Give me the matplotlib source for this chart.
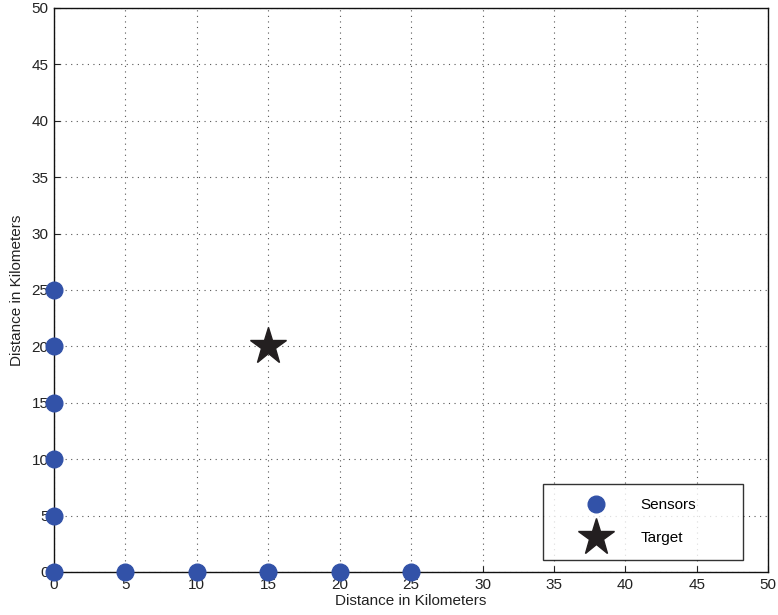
import matplotlib
matplotlib.use("Agg")
import matplotlib.pyplot as plt

plt.rcParams["font.family"] = ["Liberation Sans", "DejaVu Sans"]

# --- Data ---
sensor_x = [0, 0, 0, 0, 0, 0, 5, 10, 15, 20, 25]
sensor_y = [0, 5, 10, 15, 20, 25, 0, 0, 0, 0, 0]
target_x = [15]
target_y = [20]
ticks = [0, 5, 10, 15, 20, 25, 30, 35, 40, 45, 50]

fig = plt.figure(figsize=(7.78, 6.15), dpi=100)
ax = fig.add_axes([0.0694, 0.070, 0.918, 0.917])

ax.plot(sensor_x, sensor_y, "o", color="#3252a8", markersize=12,
        linestyle="none", label="Sensors", clip_on=False, zorder=5)
ax.plot(target_x, target_y, "*", color="#231f20", markersize=28,
        linestyle="none", label="Target", zorder=5)

ax.set_xlim(0, 50)
ax.set_ylim(0, 50)
ax.set_xticks(ticks)
ax.set_yticks(ticks)
ax.tick_params(direction="in", length=4, labelsize=11, colors="#222222", pad=4)
ax.grid(True, linestyle=(0, (1, 4)), color="#555555", linewidth=0.8)
for s in ax.spines.values():
    s.set_linewidth(1.0)
    s.set_color("#111111")

ax.set_xlabel("Distance in Kilometers", fontsize=11, labelpad=2, color="#222222")
ax.set_ylabel("Distance in Kilometers", fontsize=11, labelpad=5, color="#222222")

# MATLAB-style legend: fixed-width box, entries left aligned
leg = ax.legend(loc="lower left", bbox_to_anchor=(0.685, 0.0213, 0.28, 0.13),
                mode="expand", fancybox=False, edgecolor="black", fontsize=11,
                borderpad=0.95, labelspacing=1.25, handlelength=5.0,
                handletextpad=0.4, borderaxespad=0)
leg.get_frame().set_linewidth(1.0)

fig.savefig("out.png", dpi=100)
